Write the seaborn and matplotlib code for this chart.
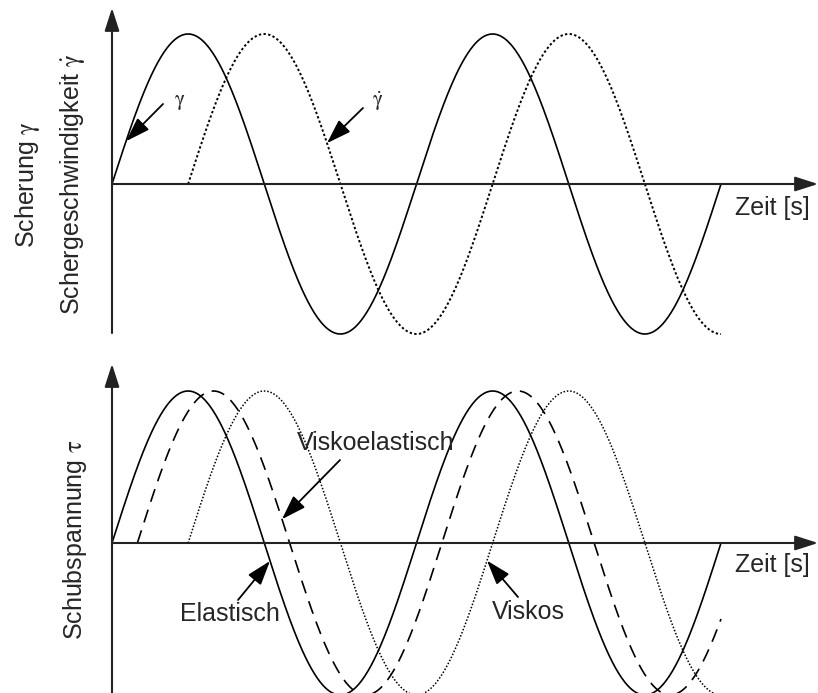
import numpy as np
import pandas as pd
import matplotlib
matplotlib.use("Agg")
import matplotlib.pyplot as plt
import seaborn as sns

sns.set_style("white")
plt.rcParams["font.family"] = ["Liberation Sans", "DejaVu Sans"]
plt.rcParams["mathtext.fontset"] = "stix"

# Two full oscillation periods
T_END = 4 * np.pi

# Upper panel: strain and strain rate (phase lag in rad)
top_labels = ["gamma", "gamma_dot"]
top_phase = [0.0, np.pi / 2]
top_styles = ["-", (0, (1.2, 1.2))]
top_widths = [1.2, 1.4]

# Lower panel: shear stress for the three material types
bottom_labels = ["Elastisch", "Viskoelastisch", "Viskos"]
bottom_phase = [0.0, np.pi / 6, np.pi / 2]
bottom_styles = ["-", (0, (8, 5)), (0, (1, 1.2))]
bottom_widths = [1.2, 1.2, 1.1]

AMPLITUDE = 1.0
N = 600


def wave(phase):
    t = np.linspace(phase, T_END, N)
    return pd.DataFrame({"t": t, "v": AMPLITUDE * np.sin(t - phase)})


W, H = 818, 693
fig = plt.figure(figsize=(W / 100, H / 100), dpi=100)

# horizontal scale: t=0 at x=112 px, t=4*pi at x=721 px
x_scale = (721 - 112) / T_END
xlim = (-112 / x_scale, (W - 112) / x_scale)

ax_top = fig.add_axes([0, 0.5, 1, 0.5])
ax_bot = fig.add_axes([0, 0, 1, 0.5])

# vertical scales: zero line and amplitude in pixels
ax_top.set_ylim((184 - 346.5) / 150, 184 / 150)
ax_bot.set_ylim((543 - 693) / 152, (543 - 346.5) / 152)
for ax in (ax_top, ax_bot):
    ax.set_xlim(*xlim)
    ax.axis("off")

for lab, ph, ls, lw in zip(top_labels, top_phase, top_styles, top_widths):
    d = wave(ph)
    sns.lineplot(data=d, x="t", y="v", ax=ax_top, color="black",
                 linewidth=lw, linestyle=ls, estimator=None, sort=False)

for lab, ph, ls, lw in zip(bottom_labels, bottom_phase, bottom_styles, bottom_widths):
    d = wave(ph)
    sns.lineplot(data=d, x="t", y="v", ax=ax_bot, color="black",
                 linewidth=lw, linestyle=ls, estimator=None, sort=False)

# coordinate axes with arrow heads
axis_arrow = dict(arrowstyle="-|>,head_length=1.4,head_width=0.45",
                  mutation_scale=10, color="#222222", lw=1.5,
                  shrinkA=0, shrinkB=0)
ax_top.annotate("", xy=(0, (184 - 8) / 150), xytext=(0, (184 - 333) / 150),
                arrowprops=axis_arrow)
ax_top.annotate("", xy=(xlim[1], 0), xytext=(0, 0), arrowprops=axis_arrow)
ax_bot.annotate("", xy=(0, (543 - 364) / 152), xytext=(0, (543 - 693) / 152),
                arrowprops=axis_arrow)
ax_bot.annotate("", xy=(xlim[1], 0), xytext=(0, 0), arrowprops=axis_arrow)

FS = 18


def fxy(x, y):
    return (x / W, 1 - y / H)


# axis titles
fig.text(*fxy(27, 184), r"Scherung $\mathrm{\gamma}$", rotation=90, fontsize=FS,
         ha="center", va="center")
fig.text(*fxy(73, 184), r"Schergeschwindigkeit $\dot{\mathrm{\gamma}}$", rotation=90,
         fontsize=FS, ha="center", va="center")
fig.text(*fxy(75, 540), r"Schubspannung $\mathrm{\tau}$", rotation=90, fontsize=FS,
         ha="center", va="center")
fig.text(*fxy(735, 208), "Zeit [s]", fontsize=FS, ha="left", va="center")
fig.text(*fxy(735, 565), "Zeit [s]", fontsize=FS, ha="left", va="center")

# pointer arrows from labels to curves
label_arrow = dict(arrowstyle="-|>,head_length=1.5,head_width=0.5",
                   mutation_scale=10, color="black", lw=1.3,
                   shrinkA=0, shrinkB=0)


def pointer(ax, phase, t, tail_px):
    ax.annotate("", xy=(t, AMPLITUDE * np.sin(t - phase)),
                xytext=fxy(*tail_px), textcoords="figure fraction",
                arrowprops=label_arrow)


pointer(ax_top, top_phase[0], (126 - 112) / x_scale, (163, 104))
fig.text(*fxy(180, 102), r"$\mathrm{\gamma}$", fontsize=15, ha="center", va="center")
pointer(ax_top, top_phase[1], (327 - 112) / x_scale, (363, 108))
fig.text(*fxy(378, 101), r"$\dot{\mathrm{\gamma}}$", fontsize=15, ha="center", va="center")

pointer(ax_bot, bottom_phase[1], (282 - 112) / x_scale, (340, 460))
fig.text(*fxy(376, 443), "Viskoelastisch", fontsize=FS, ha="center", va="center")
pointer(ax_bot, bottom_phase[0], (270 - 112) / x_scale, (238, 600))
fig.text(*fxy(230, 614), "Elastisch", fontsize=FS, ha="center", va="center")
pointer(ax_bot, bottom_phase[2], (487 - 112) / x_scale, (518, 597))
fig.text(*fxy(528, 612), "Viskos", fontsize=FS, ha="center", va="center")

fig.savefig("out.png", dpi=100)
